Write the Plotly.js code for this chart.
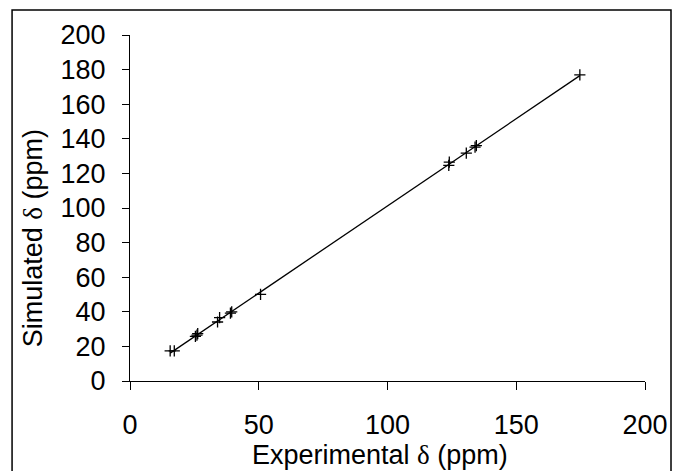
<!DOCTYPE html>
<html>
<head>
<meta charset="utf-8">
<script src="https://cdn.plot.ly/plotly-3.0.1.min.js"></script>
<style>html,body{margin:0;padding:0;background:#fff;}#chart{width:673px;height:471px;}</style>
</head>
<body>
<div id="chart"></div>
<script>
const experimental = [15.6, 17.2, 25.4, 26.0, 26.3, 34.0, 34.8, 39.0, 39.5, 50.7, 123.8, 124.0, 130.6, 134.0, 134.5, 174.7];
const simulated    = [17.4, 17.4, 25.8, 26.5, 27.4, 34.1, 36.6, 39.2, 40.0, 50.1, 124.6, 126.5, 131.7, 135.2, 136.0, 177.0];
const xTicks = [0, 50, 100, 150, 200];
const yTicks = [0, 20, 40, 60, 80, 100, 120, 140, 160, 180, 200];
const xTitle = 'Experimental δ (ppm)';
const yTitle = 'Simulated δ (ppm)';

// least-squares trendline computed from the data
const n = experimental.length;
const mx = experimental.reduce((a,b)=>a+b,0)/n;
const my = simulated.reduce((a,b)=>a+b,0)/n;
let sxy = 0, sxx = 0;
for (let i = 0; i < n; i++) { sxy += (experimental[i]-mx)*(simulated[i]-my); sxx += (experimental[i]-mx)**2; }
const slope = sxy/sxx, intercept = my - slope*mx;
const xMin = Math.min(...experimental), xMax = Math.max(...experimental);
const trendX = [xMin, xMax];
const trendY = trendX.map(x => slope*x + intercept);

const serifDelta = s => s.replace('δ', '<span style="font-family:\'Liberation Serif\',serif">δ</span>');
const font = {family: 'Liberation Sans, Arial, sans-serif', size: 27, color: '#000'};

const traces = [
  {x: trendX, y: trendY, mode: 'lines', line: {color: '#000', width: 1.3}, hoverinfo: 'skip'},
  {x: experimental, y: simulated, mode: 'markers',
   marker: {symbol: 'cross-thin', size: 8, color: '#000', line: {color: '#000', width: 1.3}}}
];

const layout = {
  width: 673, height: 471,
  margin: {l: 130, r: 28, t: 35, b: 90},
  paper_bgcolor: '#fff', plot_bgcolor: '#fff',
  showlegend: false,
  font: font,
  xaxis: {
    range: [0, 200], tickvals: xTicks, ticktext: xTicks.map(String),
    showgrid: false, zeroline: false, showline: true, linecolor: '#000', linewidth: 1,
    ticks: 'outside', ticklen: 8, tickcolor: '#000', tickwidth: 1,
    tickfont: font, ticklabelstandoff: 12
  },
  yaxis: {
    range: [0, 200], tickvals: yTicks, ticktext: yTicks.map(String),
    showgrid: false, zeroline: false, showline: true, linecolor: '#000', linewidth: 1,
    ticks: 'outside', ticklen: 7, tickcolor: '#000', tickwidth: 1,
    tickfont: font, ticklabelstandoff: 11
  },
  annotations: [
    {text: serifDelta(xTitle), xref: 'paper', yref: 'paper', x: 0.485, y: -0.214,
     xanchor: 'center', yanchor: 'middle', showarrow: false, font: font},
    {text: serifDelta(yTitle), xref: 'paper', yref: 'paper', x: -0.188, y: 0.413,
     xanchor: 'center', yanchor: 'middle', textangle: -90, showarrow: false, font: font}
  ],
  shapes: [{
    type: 'rect', xref: 'paper', yref: 'paper',
    x0: -0.229, x1: 1.0505, y0: -0.28, y1: 1.0723,
    line: {color: '#000', width: 1.5}, fillcolor: 'rgba(0,0,0,0)'
  }]
};

Plotly.newPlot('chart', traces, layout, {staticPlot: true});
</script>
</body>
</html>
